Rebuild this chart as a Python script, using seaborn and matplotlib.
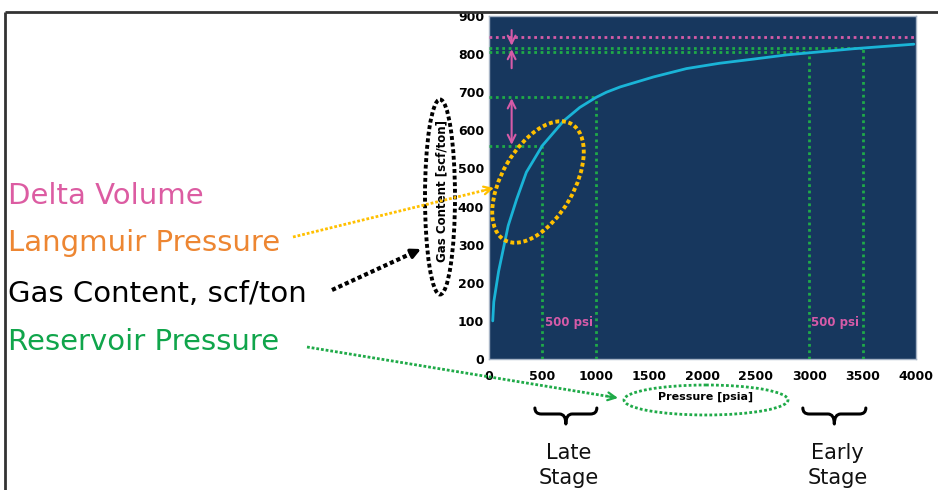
import matplotlib
matplotlib.use("Agg")
import matplotlib.pyplot as plt
import matplotlib.transforms as mtransforms
from matplotlib.patches import Ellipse, PathPatch
from matplotlib.path import Path
import seaborn as sns
import pandas as pd
import numpy as np

# Gas content curve (psia, scf/ton)
pressure = [35, 45, 90, 135, 180, 260, 350, 500, 700, 850, 1000, 1100, 1230, 1540,
            1850, 2160, 2480, 2790, 3100, 3410, 3980]
gas_content = [100, 150, 230, 290, 350, 420, 490, 560, 625, 660, 686, 700, 714, 740,
               762, 776, 787, 798, 806, 814, 826]

# reservoir pressure guides and the gas content where they meet the curve
guide_p = [500, 1000, 3000, 3500]
guide_v = [560, 688, 805, 817]
langmuir_v = 845

# delta volume arrows (pressure, from, to)
delta_arrows = [(212, 684, 562, '<->'), (212, 863, 822, '->'), (212, 763, 813, '->')]

x_ticks = list(range(0, 4001, 500))
y_ticks = list(range(0, 901, 100))

left_labels = ["Delta Volume", "Langmuir Pressure", "Gas Content, scf/ton", "Reservoir Pressure"]
left_colors = ["#DC5CA2", "#ED8632", "#000000", "#10A54B"]
stage_ranges = [(430, 1010), (2940, 3530)]
stage_words = [("Late", "Stage"), ("Early", "Stage")]

navy = "#17375E"
cyan = "#1AB4D7"
green = "#1FAA48"
pink = "#D65BA8"
yellow = "#FFC000"

sns.set_theme(style="white")
plt.rcParams['font.family'] = ['DejaVu Sans']

W, H = 938, 490
fig = plt.figure(figsize=(W / 100, H / 100), dpi=100)
fig.patch.set_facecolor("white")

ax = fig.add_axes([489 / W, 1 - 359 / H, (916 - 489) / W, (359 - 16) / H])
ax.set_facecolor(navy)

df = pd.DataFrame({"Pressure": pressure, "Gas": gas_content})
sns.lineplot(data=df, x="Pressure", y="Gas", ax=ax, color=cyan, lw=2, zorder=4)

dots = (0, (1, 1.3))
for p, v in zip(guide_p, guide_v):
    ax.plot([0, p], [v, v], color=green, lw=2, linestyle=dots, zorder=3)
    ax.plot([p, p], [0, v], color=green, lw=2, linestyle=dots, zorder=3)
ax.plot([0, 4000], [langmuir_v, langmuir_v], color=pink, lw=2, linestyle=dots, zorder=3)

for p, v0, v1, style in delta_arrows:
    ax.annotate("", xy=(p, v1), xytext=(p, v0),
                arrowprops=dict(arrowstyle=style, color=pink, lw=1.5,
                                mutation_scale=14, shrinkA=0, shrinkB=0), zorder=5)

for p in [guide_p[0], guide_p[2]]:
    ax.text(p + 20, 97, "500 psi", color="#D65BA8", fontsize=8.5, fontweight="bold",
            ha="left", va="center", zorder=5)

ax.set_xlim(0, 4000)
ax.set_ylim(0, 900)
ax.set_xticks(x_ticks)
ax.set_yticks(y_ticks)
ax.tick_params(axis="both", length=0, labelsize=9, labelcolor="black")
ax.tick_params(axis="x", pad=8)
ax.tick_params(axis="y", pad=3.5)
for lab in ax.get_xticklabels() + ax.get_yticklabels():
    lab.set_fontweight("bold")
for s in ax.spines.values():
    s.set_color("#A7B4C6")
    s.set_linewidth(1)

ax.set_xlabel("Pressure [psia]", fontsize=8, fontweight="bold", color="black")
ax.set_ylabel("Gas Content [scf/ton]", fontsize=8.5, fontweight="bold", color="black")
ax.xaxis.set_label_coords((706 - 489) / 427, (359 - 392) / 343)
ax.yaxis.set_label_coords((448 - 489) / 427, (359 - 191) / 343)

# overlay in pixel coordinates for the callouts
ov = fig.add_axes([0, 0, 1, 1], zorder=5)
ov.set_xlim(0, W)
ov.set_ylim(H, 0)
ov.axis("off")

# frame lines of the slide
ov.plot([5, 5], [12, H], color="#333333", lw=2, solid_capstyle="butt")
ov.plot([5, W], [12, 12], color="#333333", lw=2, solid_capstyle="butt")

ys = [204, 251, 302, 350]
for txt, col, y in zip(left_labels, left_colors, ys):
    ov.text(8, y, txt, color=col, fontsize=21, ha="left", va="baseline")

sq_dots = (0, (1, 0.7))
ov.add_patch(Ellipse((538, 182), 134, 72, angle=-60, fill=False, ec=yellow,
                     lw=2.8, linestyle=sq_dots, capstyle="butt"))
ov.add_patch(Ellipse((440, 197), 30, 195, angle=0, fill=False, ec="black",
                     lw=2.8, linestyle=sq_dots, capstyle="butt"))
ov.add_patch(Ellipse((706, 400), 164, 30, angle=0, fill=False, ec=green,
                     lw=2, linestyle=(0, (1, 0.8)), capstyle="butt"))


def dotted_arrow(p0, p1, color, lw, head, ms):
    p0 = np.array(p0, float)
    p1 = np.array(p1, float)
    d = p1 - p0
    u = d / np.hypot(*d)
    ov.plot([p0[0], p1[0] - u[0] * 5], [p0[1], p1[1] - u[1] * 5], color=color, lw=lw,
            linestyle=(0, (1, 0.7)), dash_capstyle="butt")
    ov.annotate("", xy=tuple(p1), xytext=tuple(p1 - u * 10),
                arrowprops=dict(arrowstyle=head, color=color, lw=lw * 0.8,
                                mutation_scale=ms, shrinkA=0, shrinkB=0))


dotted_arrow((293, 237), (494, 188), yellow, 2, "->", 14)
dotted_arrow((332, 290), (421, 249), "black", 3, "-|>", 14)
dotted_arrow((307, 347), (618, 398), green, 2, "->", 14)

# braces under the x axis: x in data, y in pixels
blend = mtransforms.blended_transform_factory(ax.transData, ov.transData)


def brace(x0, x1, y_top, y_mid, y_bot, dx):
    xm = (x0 + x1) / 2
    verts = [(x0, y_top), (x0, y_mid), (x0 + dx, y_mid), (xm - dx, y_mid),
             (xm, y_mid), (xm, y_bot), (xm, y_mid), (xm + dx, y_mid),
             (x1 - dx, y_mid), (x1, y_mid), (x1, y_top)]
    codes = [Path.MOVETO, Path.CURVE3, Path.CURVE3, Path.LINETO,
             Path.CURVE3, Path.CURVE3, Path.CURVE3, Path.CURVE3,
             Path.LINETO, Path.CURVE3, Path.CURVE3]
    ov.add_patch(PathPatch(Path(verts, codes), fill=False, ec="black", lw=2.2,
                           transform=blend, capstyle="round", joinstyle="round"))


for (x0, x1), (w1, w2) in zip(stage_ranges, stage_words):
    brace(x0, x1, 408, 414, 424, 60)
    xc = (x0 + x1) / 2 + 30
    ov.text(xc, 459, w1, transform=blend, fontsize=15, ha="center", va="baseline", color="#111111")
    ov.text(xc, 484, w2, transform=blend, fontsize=15, ha="center", va="baseline", color="#111111")

fig.savefig("out.png", dpi=100)
